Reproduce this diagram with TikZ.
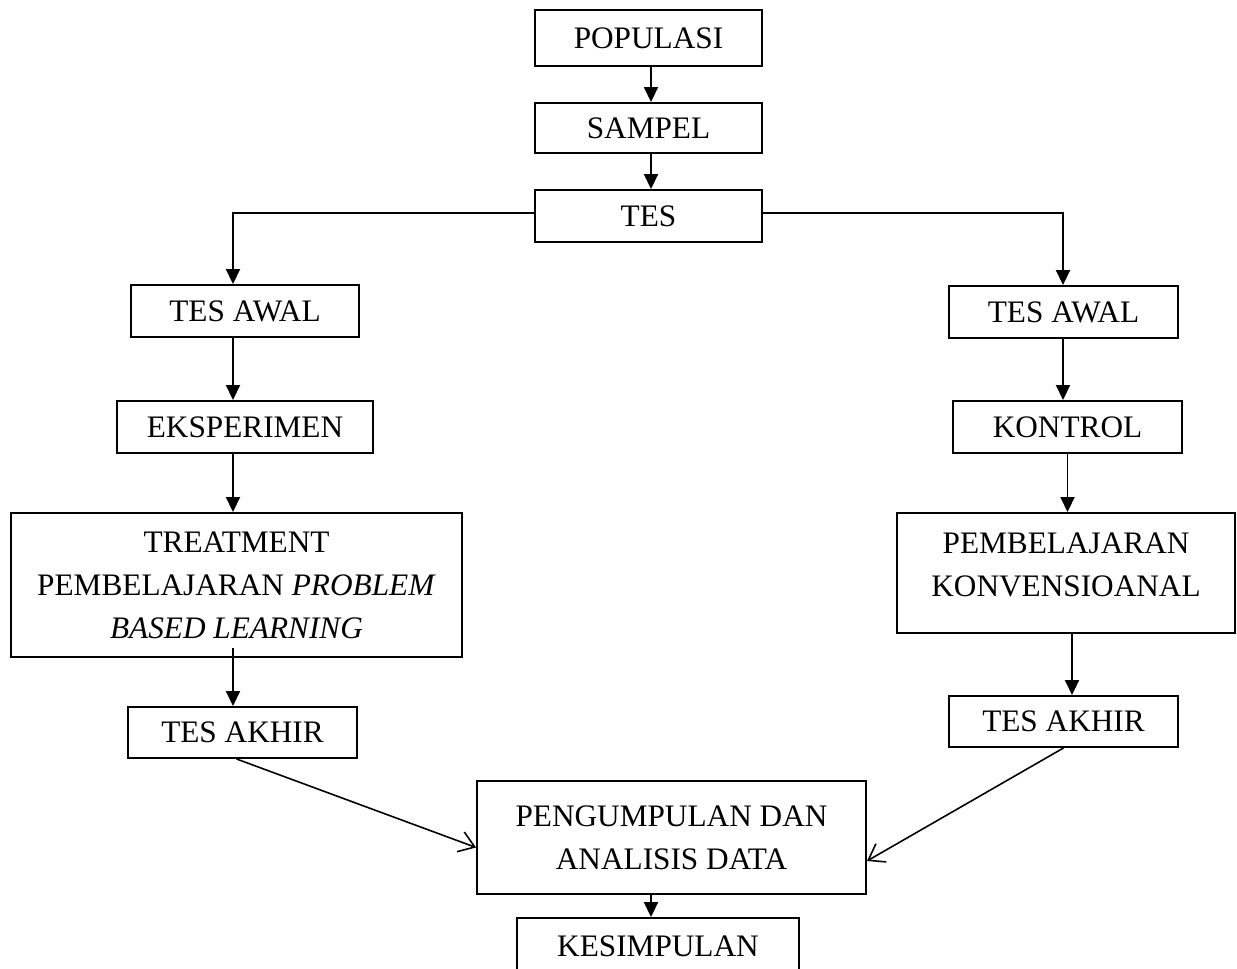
\documentclass[tikz,border=0pt]{standalone}
\usepackage{fontspec}
\setmainfont{Liberation Serif}
\usetikzlibrary{arrows.meta}

\begin{document}
\begin{tikzpicture}[
	kotak/.style = {draw, line width=1.1pt, align=center, inner sep=2pt, font=\fontsize{17.8}{24.5}\selectfont},
	panah/.style = {line width=1.1pt, -{Triangle[length=0.3cm,width=0.28cm]}},
	panahbuka/.style = {line width=0.9pt, -{Straight Barb[length=0.3cm,width=0.42cm]}}]
	\useasboundingbox (0,0) rectangle (24.74,19.36);
	% tengah
	\node[kotak, minimum width=4.54cm, minimum height=1.12cm] (populasi) at (12.97,18.6) {POPULASI};
	\node[kotak, minimum width=4.54cm, minimum height=1.0cm] (sampel) at (12.97,16.8) {SAMPEL};
	\node[kotak, minimum width=4.54cm, minimum height=1.04cm] (tes) at (12.97,15.04) {TES};
	% kelas eksperimen
	\node[kotak, minimum width=4.56cm, minimum height=1.04cm] (awalL) at (4.9,13.14) {TES AWAL};
	\node[kotak, minimum width=5.12cm, minimum height=1.04cm] (eksp) at (4.9,10.82) {EKSPERIMEN};
	\node[kotak, minimum width=9.02cm, minimum height=2.88cm] (treat) at (4.73,7.66) {TREATMENT\\PEMBELAJARAN \textit{PROBLEM}\\\textit{BASED LEARNING}};
	\node[kotak, minimum width=4.58cm, minimum height=1.02cm] (akhirL) at (4.85,4.71) {TES AKHIR};
	% kelas kontrol
	\node[kotak, minimum width=4.58cm, minimum height=1.04cm] (awalR) at (21.27,13.12) {TES AWAL};
	\node[kotak, minimum width=4.58cm, minimum height=1.04cm] (kontrol) at (21.35,10.82) {KONTROL};
	\node[kotak, minimum width=6.76cm, minimum height=2.4cm] (pemb) at (21.32,7.9) {PEMBELAJARAN\\KONVENSIOANAL\\[-15.5pt]\mbox{}};
	\node[kotak, minimum width=4.58cm, minimum height=1.02cm] (akhirR) at (21.27,4.93) {TES AKHIR};
	% bawah
	\node[kotak, minimum width=7.78cm, minimum height=2.26cm] (peng) at (13.43,2.61) {PENGUMPULAN DAN\\ANALISIS DATA};
	\node[kotak, minimum width=5.64cm, minimum height=1.12cm] (simpul) at (13.16,0.44) {KESIMPULAN};

	\coordinate (kiri) at (4.66,0);
	\coordinate (kanan) at (21.26,0);
	\coordinate (tengah) at (13.02,0);
	\coordinate (treatbawah) at ([yshift=0.2cm]treat.south);
	\coordinate (pembbawah) at ([xshift=0.12cm]pemb.south);

	\draw[panah] (populasi.south -| tengah) -- (sampel.north -| tengah);
	\draw[panah] (sampel.south -| tengah) -- (tes.north -| tengah);
	\draw[panah] ([yshift=0.06cm]tes.west) -| (awalL.north -| kiri);
	\draw[panah] ([yshift=0.06cm]tes.east) -| (awalR.north -| kanan);
	% kiri
	\draw[panah] (awalL.south -| kiri) -- (eksp.north -| kiri);
	\draw[panah] (eksp.south -| kiri) -- (treat.north -| kiri);
	\draw[panah] (treatbawah -| kiri) -- (akhirL.north -| kiri);
	% kanan
	\draw[panah] (awalR.south -| kanan) -- (kontrol.north -| kanan);
	\draw[panah] (kontrol.south) -- (kontrol.south |- pemb.north);
	\draw[panah] (pembbawah) -- (pembbawah |- akhirR.north);
	% ke pengumpulan data
	\draw[panahbuka] ([xshift=-0.12cm]akhirL.south) -- ([yshift=-0.2cm]peng.west);
	\draw[panahbuka] (akhirR.south) -- ([yshift=-0.47cm]peng.east);
	\draw[panah] (peng.south -| tengah) -- (simpul.north -| tengah);
\end{tikzpicture}
\end{document}
